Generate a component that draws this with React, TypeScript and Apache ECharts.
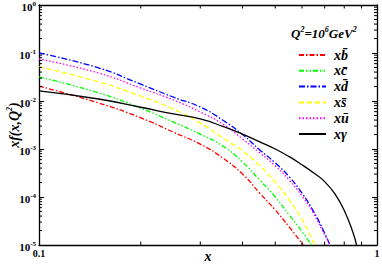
import React, { useEffect, useRef } from 'react';
import * as echarts from 'echarts';

// x and x·f(x,Q²) values (log-log)
const xBbar = [0.1, 0.15, 0.2, 0.25, 0.3, 0.35, 0.4, 0.45, 0.5, 0.55, 0.605];
const yBbar = [0.0204, 0.00912, 0.00447, 0.00224, 0.00126, 0.000646, 0.000302, 0.00012, 5.37e-5, 2.37e-5, 1e-5];

const xCbar = [0.1, 0.15, 0.2, 0.25, 0.3, 0.35, 0.4, 0.45, 0.5, 0.55, 0.6, 0.64];
const yCbar = [0.0316, 0.0148, 0.00708, 0.00363, 0.00204, 0.00115, 0.000537, 0.000224, 0.0001, 4.22e-5, 1.91e-5, 1e-5];

const xDbar = [0.1, 0.15, 0.2, 0.25, 0.3, 0.35, 0.4, 0.45, 0.5, 0.55, 0.6, 0.65, 0.7, 0.725];
const yDbar = [0.1, 0.049, 0.0224, 0.012, 0.0075, 0.00398, 0.002, 0.000955, 0.000513, 0.000263, 0.00012, 4.9e-5, 1.78e-5, 1e-5];

const xSbar = [0.1, 0.15, 0.2, 0.25, 0.3, 0.35, 0.4, 0.45, 0.5, 0.55, 0.6, 0.655];
const ySbar = [0.0513, 0.0251, 0.0126, 0.00676, 0.00347, 0.0017, 0.000912, 0.000447, 0.000204, 8.71e-5, 3.39e-5, 1e-5];

const xUbar = [0.1, 0.15, 0.2, 0.25, 0.3, 0.35, 0.4, 0.45, 0.5, 0.55, 0.6, 0.65, 0.7, 0.727];
const yUbar = [0.075, 0.0383, 0.0186, 0.0105, 0.00589, 0.00331, 0.00162, 0.000832, 0.000447, 0.000224, 0.000105, 4.47e-5, 1.62e-5, 1e-5];

const xGamma = [0.1, 0.15, 0.2, 0.25, 0.3, 0.35, 0.4, 0.45, 0.5, 0.55, 0.6, 0.65, 0.7, 0.75, 0.8, 0.85, 0.87];
const yGamma = [0.0162, 0.011, 0.00741, 0.00537, 0.00422, 0.00295, 0.00204, 0.00141, 0.001, 0.000692, 0.000468, 0.000316, 0.000209, 0.000117, 5.25e-5, 1.78e-5, 1e-5];

const seriesNames = ['xb\u0304', 'xc\u0304', 'xd\u0304', 'xs\u0304', 'xu\u0304', 'x\u03b3'];

// minor tick values
const yMinorTicks = [1e-5, 1e-4, 1e-3, 1e-2, 1e-1].flatMap((d) => [2, 3, 4, 5, 6, 7, 8, 9].map((m) => m * d));
const xMinorTicks = [0.2, 0.3, 0.4, 0.5, 0.6, 0.7, 0.8, 0.9];

const FONT = 'Liberation Serif';

function zip(xs: number[], ys: number[]) {
  return xs.map((x, i) => [x, ys[i]]);
}

export default function App() {
  const ref = useRef<HTMLDivElement>(null);
  useEffect(() => {
    if (!ref.current) return;
    const chart = echarts.init(ref.current, undefined, { renderer: 'svg' });

    const lineDefs = [
      { name: seriesNames[0], data: zip(xBbar, yBbar), color: '#ff0000', type: [5, 2, 1.5, 2] },
      { name: seriesNames[1], data: zip(xCbar, yCbar), color: '#00ff00', type: [5, 2, 1.5, 2, 1.5, 2] },
      { name: seriesNames[2], data: zip(xDbar, yDbar), color: '#0000ff', type: [6, 2, 1.5, 2] },
      { name: seriesNames[3], data: zip(xSbar, ySbar), color: '#ffff00', type: [5, 3] },
      { name: seriesNames[4], data: zip(xUbar, yUbar), color: '#ff00ff', type: [1.5, 2] },
      { name: seriesNames[5], data: zip(xGamma, yGamma), color: '#000000', type: 'solid' },
    ];

    const axisCommon = {
      type: 'log' as const,
      logBase: 10,
      axisLine: { show: true, lineStyle: { color: '#000', width: 1.3 } },
      splitLine: { show: false },
    };

    chart.setOption({
      animation: false,
      backgroundColor: '#fff',
      grid: { left: 39, top: 5, right: 5, bottom: 20, containLabel: false, outerBoundsMode: 'none' },
      title: {
        text: '{a|Q}{s|2}{a|=10}{s|6}{a|GeV}{s|2}',
        left: 291,
        top: 25,
        padding: 0,
        textStyle: {
          rich: {
            a: { fontFamily: FONT, fontSize: 13, fontStyle: 'italic', fontWeight: 'bold', color: '#000', lineHeight: 15, verticalAlign: 'bottom' },
            s: { fontFamily: FONT, fontSize: 8, fontStyle: 'italic', fontWeight: 'bold', color: '#000', lineHeight: 9, verticalAlign: 'top' },
          },
        },
      },
      legend: {
        data: seriesNames,
        orient: 'vertical',
        left: 298,
        top: 48,
        padding: 0,
        itemWidth: 27,
        itemHeight: 12,
        itemGap: 1.8,
        itemStyle: { opacity: 0, borderWidth: 0 },
        formatter: (name: string) => `{i|${name}}`,
        textStyle: {
          padding: [0, 0, 0, 3],
          rich: {
            i: { fontFamily: FONT, fontSize: 14, fontStyle: 'italic', fontWeight: 'bold', color: '#000', lineHeight: 12 },
          },
        },
      },
      xAxis: [
        {
          ...axisCommon,
          min: 0.1,
          max: 1,
          position: 'bottom',
          name: 'x',
          nameLocation: 'middle',
          nameGap: 11,
          nameMoveOverlap: false,
          nameTextStyle: { fontFamily: FONT, fontSize: 14, fontStyle: 'italic', fontWeight: 'bold', color: '#000', verticalAlign: 'middle' },
          axisTick: { show: false },
          axisLabel: {
            margin: 3,
            fontFamily: FONT,
            fontSize: 10,
            fontWeight: 'bold',
            color: '#000',
            formatter: (v: number) => (v >= 1 ? '1' : '0.1'),
          },
        },
        {
          ...axisCommon,
          min: 0.1,
          max: 1,
          position: 'top',
          axisTick: { show: false },
          axisLabel: { show: false },
        },
      ],
      yAxis: [
        {
          ...axisCommon,
          min: 1e-5,
          max: 1,
          position: 'left',
          name: '{i|xf(x,Q}{s|2}{i|)}',
          nameLocation: 'middle',
          nameRotate: 90,
          nameGap: 18,
          nameMoveOverlap: false,
          nameTextStyle: {
            rich: {
              i: { fontFamily: FONT, fontSize: 14, fontStyle: 'italic', fontWeight: 'bold', color: '#000', lineHeight: 16, verticalAlign: 'bottom' },
              s: { fontFamily: FONT, fontSize: 8, fontStyle: 'italic', fontWeight: 'bold', color: '#000', lineHeight: 9, verticalAlign: 'top' },
            },
          },
          axisTick: { show: true, inside: true, length: 5, lineStyle: { color: '#000', width: 1 } },
          axisLabel: {
            margin: 3,
            formatter: (v: number) => `{b|10}{s|${Math.round(Math.log10(v))}}`,
            rich: {
              b: { fontFamily: FONT, fontSize: 11, fontWeight: 'bold', color: '#000', lineHeight: 14, verticalAlign: 'bottom' },
              s: { fontFamily: FONT, fontSize: 7, fontWeight: 'bold', color: '#000', lineHeight: 8, padding: [2, 0, 0, 0], verticalAlign: 'top' },
            },
          },
        },
        {
          ...axisCommon,
          min: 1e-5,
          max: 1,
          position: 'right',
          axisTick: { show: true, inside: true, length: 5, lineStyle: { color: '#000', width: 1 } },
          axisLabel: { show: false },
        },
      ],
      series: [
        ...lineDefs.map((d) => ({
          type: 'line',
          name: d.name,
          data: d.data,
          xAxisIndex: 0,
          yAxisIndex: 0,
          symbol: 'circle',
          symbolSize: 0,
          showSymbol: false,
          smooth: 0.5,
          color: d.color,
          lineStyle: { color: d.color, width: 1.3, type: d.type },
          z: d.name === seriesNames[5] ? 3 : 2,
        })),
        {
          type: 'custom',
          name: 'yMinor',
          xAxisIndex: 0,
          yAxisIndex: 0,
          data: yMinorTicks.map((v) => [0.1, v]),
          renderItem: (_p: any, api: any) => {
            const v = api.value(1);
            const a = api.coord([0.1, v]);
            const b = api.coord([1, v]);
            return {
              type: 'group',
              children: [
                { type: 'line', shape: { x1: a[0], y1: a[1], x2: a[0] + 3, y2: a[1] }, style: { stroke: '#000', lineWidth: 1 } },
                { type: 'line', shape: { x1: b[0] - 3, y1: b[1], x2: b[0], y2: b[1] }, style: { stroke: '#000', lineWidth: 1 } },
              ],
            };
          },
          silent: true,
          z: 5,
        },
        {
          type: 'custom',
          name: 'xMinor',
          xAxisIndex: 0,
          yAxisIndex: 0,
          data: xMinorTicks.map((v) => [v, 1e-5]),
          renderItem: (_p: any, api: any) => {
            const v = api.value(0);
            const a = api.coord([v, 1e-5]);
            const b = api.coord([v, 1]);
            return {
              type: 'group',
              children: [
                { type: 'line', shape: { x1: a[0], y1: a[1], x2: a[0], y2: a[1] - 3.5 }, style: { stroke: '#000', lineWidth: 1 } },
                { type: 'line', shape: { x1: b[0], y1: b[1], x2: b[0], y2: b[1] + 3.5 }, style: { stroke: '#000', lineWidth: 1 } },
              ],
            };
          },
          silent: true,
          z: 5,
        },
      ],
    });
    return () => chart.dispose();
  }, []);
  return <div ref={ref} style={{ width: 382, height: 265, position: 'absolute', left: 0, top: 0 }} />;
}
